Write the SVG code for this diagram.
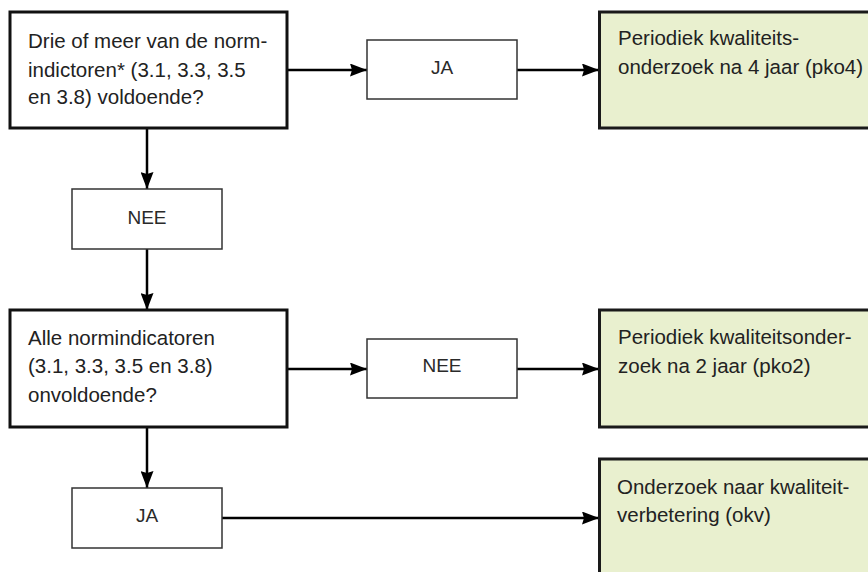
<svg xmlns="http://www.w3.org/2000/svg" width="868" height="572" viewBox="0 0 868 572">
  <style>
    .q { fill: #ffffff; stroke: #111111; stroke-width: 3; }
    .res { fill: #e9f0cf; stroke: #1a1a1a; stroke-width: 3; }
    .lab { fill: #ffffff; stroke: #333333; stroke-width: 1.5; }
    .t { font-family: "Liberation Sans", Arial, sans-serif; font-size: 20.5px; fill: #222222; }
    .l { font-family: "Liberation Sans", Arial, sans-serif; font-size: 19px; fill: #2a2a2a; text-anchor: middle; }
    .c { fill: none; stroke: #000000; stroke-width: 2.5; marker-end: url(#arr); }
  </style>
  <defs>
    <marker id="arr" markerUnits="userSpaceOnUse" markerWidth="17" markerHeight="13" refX="17" refY="6.5" orient="auto">
      <path d="M0,0 L17,6.5 L0,13 L2,6.5 z" fill="#000000"/>
    </marker>
  </defs>
  <rect width="868" height="572" fill="#ffffff"/>

  <g id="connectors">
    <line class="c" x1="287" y1="70" x2="367" y2="70"/>
    <line class="c" x1="517" y1="70" x2="599" y2="70"/>
    <line class="c" x1="147" y1="128" x2="147" y2="189"/>
    <line class="c" x1="147" y1="249" x2="147" y2="310"/>
    <line class="c" x1="287" y1="369" x2="367" y2="369"/>
    <line class="c" x1="517" y1="369" x2="599" y2="369"/>
    <line class="c" x1="147" y1="427" x2="147" y2="488"/>
    <line class="c" x1="222" y1="518" x2="599" y2="518"/>
  </g>

  <g id="q1">
    <rect class="q" x="10" y="12" width="277" height="116"/>
    <text class="t" x="28" y="48">Drie of meer van de norm-</text>
    <text class="t" x="28" y="76.5">indictoren* (3.1, 3.3, 3.5</text>
    <text class="t" x="28" y="104">en 3.8) voldoende?</text>
  </g>
  <g id="ja1">
    <rect class="lab" x="367" y="40" width="150" height="59"/>
    <text class="l" x="442" y="73.5">JA</text>
  </g>
  <g id="pko4">
    <rect class="res" x="599.5" y="12" width="300" height="116"/>
    <text class="t" x="618" y="45">Periodiek kwaliteits-</text>
    <text class="t" x="618" y="74">onderzoek na 4 jaar (pko4)</text>
  </g>
  <g id="nee1">
    <rect class="lab" x="72" y="189" width="150" height="60"/>
    <text class="l" x="147" y="223.5">NEE</text>
  </g>
  <g id="q2">
    <rect class="q" x="10" y="310" width="277" height="117"/>
    <text class="t" x="28" y="344.5">Alle normindicatoren</text>
    <text class="t" x="28" y="373">(3.1, 3.3, 3.5 en 3.8)</text>
    <text class="t" x="28" y="401.5">onvoldoende?</text>
  </g>
  <g id="nee2">
    <rect class="lab" x="367" y="339" width="150" height="59"/>
    <text class="l" x="442" y="372">NEE</text>
  </g>
  <g id="pko2">
    <rect class="res" x="599.5" y="310" width="300" height="117"/>
    <text class="t" x="618" y="343.5">Periodiek kwaliteitsonder-</text>
    <text class="t" x="618" y="372.5">zoek na 2 jaar (pko2)</text>
  </g>
  <g id="ja2">
    <rect class="lab" x="72" y="488" width="150" height="60"/>
    <text class="l" x="147" y="522">JA</text>
  </g>
  <g id="okv">
    <rect class="res" x="599.5" y="459" width="300" height="150"/>
    <text class="t" x="617" y="493.5">Onderzoek naar kwaliteit-</text>
    <text class="t" x="617" y="522">verbetering (okv)</text>
  </g>
</svg>
